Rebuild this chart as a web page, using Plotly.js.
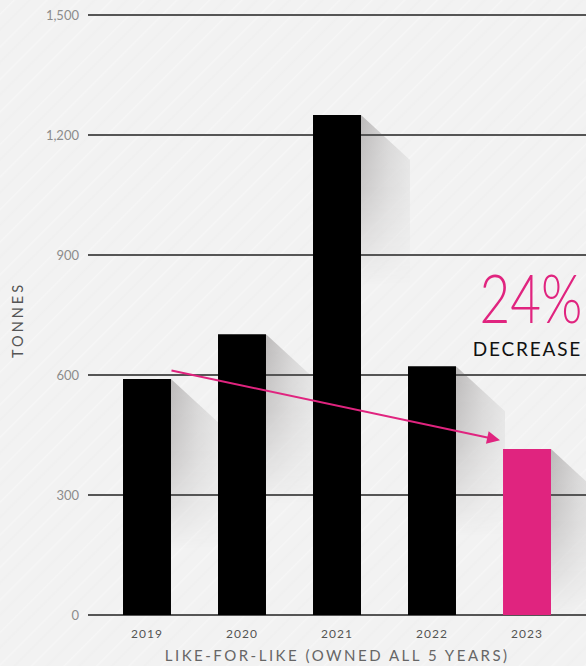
<!DOCTYPE html>
<html>
<head>
<meta charset="utf-8">
<script src="https://cdn.plot.ly/plotly-3.0.1.min.js"></script>
<style>
html, body { margin:0; padding:0; }
body {
  width:586px; height:666px; overflow:hidden;
  background-color:#f2f2f2;
  background-image: repeating-linear-gradient(135deg, rgba(255,255,255,0) 0px, rgba(255,255,255,0) 9px, rgba(255,255,255,0.3) 10px, rgba(255,255,255,0) 12px, rgba(230,230,230,0) 19px, rgba(230,230,230,0.18) 21px, rgba(230,230,230,0) 23px);
}
#chart { width:586px; height:666px; }
#chart .xtick text { letter-spacing:1px; }
</style>
</head>
<body>
<div id="chart"></div>
<script>
// ---- data ----
const years = ['2019', '2020', '2021', '2022', '2023'];
const tonnes = [590, 702, 1250, 622, 415];
const yTicks = [0, 300, 600, 900, 1200, 1500];
const highlightYear = '2023';
const changeLabel = '24%';
const changeWord = 'DECREASE';
const xTitle = 'LIKE-FOR-LIKE (OWNED ALL 5 YEARS)';
const yTitle = 'TONNES';

// ---- layout constants ----
const W = 586, H = 666;
const M = {l: 88, r: 0, t: 12, b: 48};
const xRange = [-0.621, 4.621];
const yRange = [-7.5, 1507.5];
const barWidth = 0.505;
const plotW = W - M.l - M.r, plotH = H - M.t - M.b;
const pxPerX = plotW / (xRange[1] - xRange[0]);
const pxPerY = plotH / (yRange[1] - yRange[0]);

const xs = years.map((_, i) => i);
const barColors = years.map(y => y === highlightYear ? '#e0247f' : '#000000');

// shadow images (decorative) to the right of each bar, derived from data
const depthPx = 49, dropPx = 45, fadePx = 170;
function shadowSvg(hpx) {
  const h = Math.max(hpx, dropPx + 1).toFixed(1);
  const svg = `<svg xmlns='http://www.w3.org/2000/svg' width='${depthPx}' height='${h}' viewBox='0 0 ${depthPx} ${h}' preserveAspectRatio='none'>` +
    `<defs><linearGradient id='g' x1='0' x2='1' y1='0' y2='0'><stop offset='0' stop-color='#bcbaba'/><stop offset='0.55' stop-color='#d6d5d5'/><stop offset='1' stop-color='#e4e4e4'/></linearGradient>` +
    `<linearGradient id='v' gradientUnits='userSpaceOnUse' x1='0' x2='0' y1='0' y2='${fadePx}'><stop offset='0' stop-color='#fff' stop-opacity='1'/><stop offset='0.45' stop-color='#fff' stop-opacity='0.7'/><stop offset='1' stop-color='#fff' stop-opacity='0'/></linearGradient>` +
    `<mask id='m'><rect x='0' y='0' width='${depthPx}' height='${h}' fill='url(#v)'/></mask></defs>` +
    `<polygon points='0,0 ${depthPx},${dropPx} ${depthPx},${h} 0,${h}' fill='url(#g)' mask='url(#m)'/></svg>`;
  return 'data:image/svg+xml;charset=utf-8,' + encodeURIComponent(svg);
}
const images = xs.map((xi, i) => ({
  source: shadowSvg(tonnes[i] * pxPerY),
  xref: 'x', yref: 'y', x: xi + barWidth / 2, y: tonnes[i],
  sizex: depthPx / pxPerX, sizey: tonnes[i],
  xanchor: 'left', yanchor: 'top', sizing: 'stretch', layer: 'below'
}));

const data = [{
  type: 'bar', x: xs, y: tonnes, width: barWidth,
  marker: {color: barColors, line: {width: 0}},
  hoverinfo: 'skip'
}];

const fontFam = 'Lato, "Noto Sans", sans-serif';
const yPix = py => (H - M.b - py) / plotH;   // paper y from pixel row
const xPix = px => (px - M.l) / plotW;       // paper x from pixel col
const layout = {
  width: W, height: H,
  margin: M,
  paper_bgcolor: 'rgba(0,0,0,0)', plot_bgcolor: 'rgba(0,0,0,0)',
  showlegend: false,
  font: {family: fontFam},
  xaxis: {
    range: xRange, tickvals: xs, ticktext: years,
    showgrid: false, zeroline: false, showline: false, ticks: '',
    ticklabelstandoff: 7,
    tickfont: {size: 12, color: '#555'}
  },
  yaxis: {
    range: yRange, tickvals: yTicks, tickformat: ',',
    showgrid: true, gridcolor: '#555', gridwidth: 1.6,
    zeroline: false, showline: false, ticks: '', ticklabelstandoff: 8,
    tickfont: {size: 13, color: '#8c8c8c'}
  },
  images: images,
  annotations: [
    {xref: 'paper', yref: 'paper', x: 0.5, y: yPix(655), xanchor: 'center', yanchor: 'middle',
     text: xTitle, showarrow: false, font: {size: 15, color: '#666'}},
    {xref: 'paper', yref: 'paper', x: xPix(18), y: yPix(320), xanchor: 'center', yanchor: 'middle',
     text: yTitle, textangle: -90, showarrow: false, font: {size: 14.5, color: '#555'}},
    {xref: 'paper', yref: 'paper', x: xPix(531), y: yPix(296), xanchor: 'center', yanchor: 'middle',
     text: changeLabel, showarrow: false, font: {size: 68, color: '#e0247f', weight: 300}},
    {xref: 'paper', yref: 'paper', x: xPix(527), y: yPix(348), xanchor: 'center', yanchor: 'middle',
     text: changeWord, showarrow: false, font: {size: 19, color: '#111'}},
    {xref: 'x', yref: 'y', axref: 'x', ayref: 'y',
     x: 3.716, y: 437, ax: 0.242, ay: 612,
     showarrow: true, arrowhead: 2, arrowsize: 1.3, arrowwidth: 2, arrowcolor: '#e0247f', text: ''}
  ]
};

Plotly.newPlot('chart', data, layout, {displayModeBar: false, staticPlot: true}).then(() => {
  const spacing = {};
  spacing[xTitle] = '2.5px';
  spacing[yTitle] = '3px';
  spacing[changeWord] = '1.8px';
  const targetW = {};
  targetW[changeLabel] = 103;
  document.querySelectorAll('#chart .annotation-text').forEach(t => {
    const key = t.textContent;
    if (spacing[key]) t.style.letterSpacing = spacing[key];
    if (targetW[key]) {
      const bb = t.getBBox();
      t.style.transformBox = 'fill-box';
      t.style.transformOrigin = 'center';
      t.style.transform = `scaleX(${(targetW[key] / bb.width).toFixed(3)})`;
    }
  });
});
</script>
</body>
</html>
